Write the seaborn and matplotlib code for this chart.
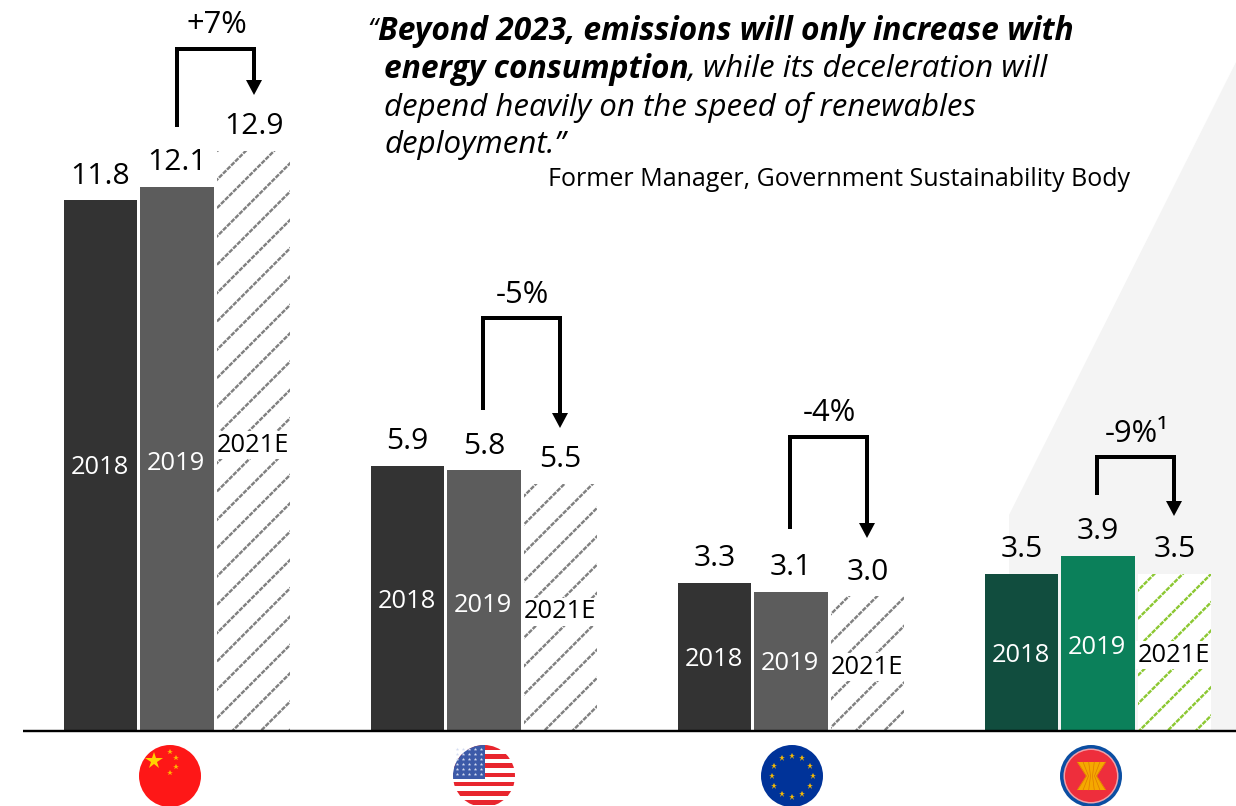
import matplotlib.pyplot as plt
import numpy as np
import pandas as pd
import seaborn as sns
from matplotlib.patches import Circle, Polygon, Rectangle

regions = ['China', 'US', 'EU', 'ASEAN']
years = ['2018', '2019', '2021E']
emissions_2018 = [11.8, 5.9, 3.3, 3.5]
emissions_2019 = [12.1, 5.8, 3.1, 3.9]
emissions_2021 = [12.9, 5.5, 3.0, 3.5]
changes = ['+7%', '-5%', '-4%', '-9%¹']

quote_lines = [
    ('Beyond 2023, emissions will only increase with', 378, 31, 'bold'),
    ('energy consumption', 384, 69, 'bold'),
    (', while its deceleration will', 687, 69, 'normal'),
    ('depend heavily on the speed of renewables', 384, 107, 'normal'),
    ('deployment.”', 384, 145, 'normal'),
]

df = pd.DataFrame({
    'region': regions * 3,
    'year': np.repeat(years, 4),
    'value': emissions_2018 + emissions_2019 + emissions_2021,
})

DPI = 170
W, H = 1236, 806
PT = 72 / DPI  # one pixel in points
FONT = ['Open Sans', 'DejaVu Sans']

sns.set_theme(style='white')
plt.rcParams['font.family'] = FONT
plt.rcParams['hatch.linewidth'] = 2.4 * PT

fig = plt.figure(figsize=(W / DPI, H / DPI), dpi=DPI, facecolor='white')
ax = fig.add_axes([0, 0, 1, 1], zorder=1)
ax.patch.set_alpha(0)
over = fig.add_axes([0, 0, 1, 1], zorder=2)
over.patch.set_alpha(0)
over.set_xlim(0, W)
over.set_ylim(H, 0)
over.axis('off')

sns.barplot(data=df, x='region', y='value', hue='year', hue_order=years,
            order=regions, width=0.7476, gap=0.033, legend=False, ax=ax,
            saturation=1, palette=['#333333', '#5c5c5c', 'white'])

# 307 px between groups, 45 px per unit, baseline at y=731
ax.set_xlim(-177 / 307, (W - 177) / 307)
ax.set_ylim(-(H - 731) / 45, 731 / 45)
ax.axis('off')

# background wedge behind the ASEAN bars
ax.add_patch(Polygon([(1009, 731), (1009, 515), (1236, 62), (1236, 731)],
                     closed=True, fc='#f4f4f4', ec='none', zorder=0,
                     transform=over.transData))

# colours per group, last group is green
solid = [['#333333', '#5c5c5c']] * 3 + [['#114d3e', '#0b805a']]
hatch_col = ['#808080'] * 3 + ['#8cc832']
for i in range(4):
    for j in range(2):
        ax.containers[j][i].set_facecolor(solid[i][j])
        ax.containers[j][i].set_linewidth(0)
    b = ax.containers[2][i]
    b.set_facecolor('white')
    b.set_edgecolor(hatch_col[i])
    b.set_hatch('//')
    b.set_linewidth(0)
    # thin white cross hatch breaks the diagonals into dashes
    breaks = Rectangle(b.get_xy(), b.get_width(), b.get_height(), fc='none',
                       ec='white', hatch='\\\\\\\\\\\\\\', lw=0, zorder=b.get_zorder() + 0.1)
    breaks.set_hatch_linewidth(1.1 * PT)
    ax.add_patch(breaks)

over.plot([23, W], [731, 731], color='black', lw=2.4 * PT, solid_capstyle='butt')

# value labels sit above the bars
for c in ax.containers:
    for bar in c:
        ax.annotate(f'{bar.get_height():.1f}',
                    (bar.get_x() + bar.get_width() / 2, bar.get_height()),
                    xytext=(0, 24 * PT), textcoords='offset points',
                    ha='center', va='center', fontsize=30 * PT, color='black')

# year labels inside the bars
inner_y = [[468, 463, 445], [601, 605, 612], [660, 664, 667], [655, 647, 655]]
for i, ys in enumerate(inner_y):
    for j, y in enumerate(ys):
        bar = ax.containers[j][i]
        x = bar.get_x() + bar.get_width() / 2
        px = ax.transData.transform((x, 0))[0] * 72 / fig.dpi / PT
        kw = {}
        if j == 2:
            kw['bbox'] = dict(fc='white', ec='none', pad=0.5)
        over.text(px - 1, y, years[j], ha='center', va='center', fontsize=25.5 * PT,
                  color='white' if j < 2 else 'black', **kw)

# change brackets: start y, top y, arrow tip y
brackets = [(127, 49, 95), (410, 318, 428), (529, 437, 538), (495, 457, 516)]
label_y = [25, 295, 413, 434]
for i, (y0, y1, tip) in enumerate(brackets):
    x0 = 177 + 307 * i - (1 if i else 0)
    x1 = x0 + 77
    over.plot([x0, x0, x1, x1], [y0, y1, y1, tip - 12], color='black',
              lw=4 * PT, solid_joinstyle='miter', solid_capstyle='butt')
    over.add_patch(Polygon([(x1 - 8, tip - 15), (x1 + 8, tip - 15), (x1, tip)],
                           closed=True, fc='black', ec='none'))
    over.text((x0 + x1) / 2 + 1, label_y[i], changes[i], ha='center', va='center',
              fontsize=31 * PT, color='black')

# quote
over.text(367, 31, '“', style='italic', fontsize=28 * PT, va='center', color='black')
for txt, x, y, weight in quote_lines:
    size = 31.7 if weight == 'bold' else 31.3
    over.text(x, y, txt, style='italic', weight=weight, fontsize=size * PT,
              va='center', color='black')
over.text(548, 180, 'Former Manager, Government Sustainability Body',
          fontsize=25 * PT, va='center', color='black')


# flags
def disc(x, color):
    c = Circle((x, 776), 31, fc=color, ec='none', zorder=3)
    over.add_patch(c)
    return c


def star(x, y, r, color, z=4):
    over.plot([x], [y], marker='*', ms=2 * r * PT, mfc=color, mec='none', zorder=z)


# China
disc(170, '#fe1717')
star(154, 761, 9, '#ffd200')
for sx, sy in [(170, 752), (176, 758), (176, 767), (170, 773)]:
    star(sx, sy, 3, '#ffb400')

# USA
clip = disc(484, 'white')
for k in range(7):
    r = Rectangle((453, 745 + k * 9.2), 62, 4.6, fc='#e8262e', ec='none', zorder=4)
    over.add_patch(r)
    r.set_clip_path(clip)
r = Rectangle((453, 745), 32, 34, fc='#3c5aa8', ec='none', zorder=5)
over.add_patch(r)
r.set_clip_path(clip)
for sx in range(457, 485, 6):
    for sy in range(749, 777, 5):
        star(sx, sy, 1.8, '#d5dcf0', z=6)

# EU
disc(792, '#003399')
for a in np.arange(12) * np.pi / 6:
    star(792 + 20.5 * np.cos(a), 776 + 20.5 * np.sin(a), 3.5, '#f2b705')

# ASEAN
disc(1091, '#0b4ea2')
over.add_patch(Circle((1091, 776), 27.5, fc='#f0a0a8', ec='none', zorder=4))
over.add_patch(Circle((1091, 776), 26, fc='#ee2e3c', ec='none', zorder=4))
over.add_patch(Polygon([(1077, 762), (1106, 762), (1097, 776), (1106, 790),
                        (1077, 790), (1086, 776)], closed=True, fc='#f5a800',
                       ec='none', zorder=5))
for s in np.linspace(-1, 1, 6):
    over.plot([1091.5 + 14 * s, 1091.5 + 5 * s, 1091.5 + 14 * s], [762, 776, 790],
              color='#e07b00', lw=0.7 * PT, zorder=6)

fig.savefig('out.png', dpi=DPI)
